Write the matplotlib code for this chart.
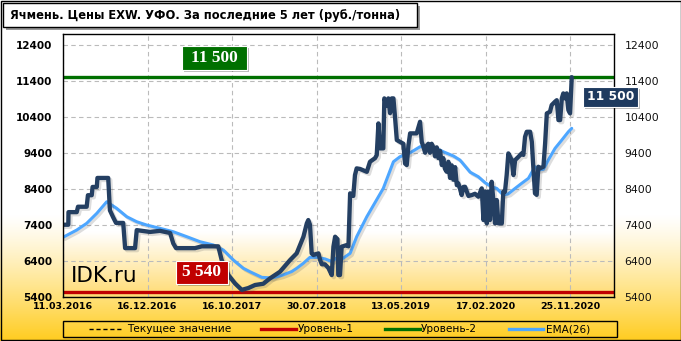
import matplotlib
matplotlib.use('Agg')
import matplotlib.pyplot as plt
import numpy as np
from matplotlib.patches import Rectangle
import matplotlib.patheffects as pe
from matplotlib.lines import Line2D

# ---------------- data ----------------
title = "Ячмень. Цены EXW. УФО. За последние 5 лет (руб./тонна)"
date_labels = ["11.03.2016", "16.12.2016", "16.10.2017", "30.07.2018",
               "13.05.2019", "17.02.2020", "25.11.2020"]
date_weeks = [0, 40, 80, 120, 160, 200, 240]
y_ticks = [5400, 6400, 7400, 8400, 9400, 10400, 11400, 12400]

level1 = 5540
level2 = 11500
current_value = 11500

price_weeks = [
    0, 2.5, 2.6, 6.5, 7.1, 11.2, 11.8, 13.6, 14.0, 16.0,
    16.3, 21.4, 22.2, 23.8, 25.1, 28.5, 29.4, 34.1, 34.9, 41.2,
    45.9, 50.7, 52.2, 53.5, 58.6, 62.5, 65.7, 72.0, 73.5, 75.1,
    78.3, 81.4, 84.6, 87.7, 90.9, 94.8, 98.0, 102.7, 107.5, 110.6,
    113.8, 115.4, 116.1, 116.9, 117.7, 118.5, 120.9, 121.7, 122.5, 124.0,
    125.6, 127.2, 128.0, 128.8, 129.9, 130.3, 131.1, 131.9, 134.3, 135.1,
    135.9, 137.4, 138.2, 139.0, 140.6, 143.8, 145.3, 147.7, 148.5, 149.3,
    150.1, 151.6, 152.1, 153.2, 154.0, 154.8, 155.6, 156.4, 157.2, 158.0,
    161.1, 161.9, 162.7, 163.5, 164.3, 167.4, 169.0, 169.8, 170.6, 171.4,
    172.2, 172.9, 173.7, 174.5, 175.3, 176.1, 176.9, 177.7, 178.5, 179.3,
    180.0, 180.8, 181.6, 182.4, 183.2, 184.0, 184.8, 185.6, 186.4, 187.1,
    187.9, 188.7, 189.5, 190.3, 191.9, 193.5, 195.0, 196.6, 198.2, 199.0,
    199.8, 200.6, 201.3, 202.1, 202.9, 203.7, 204.5, 205.3, 206.1, 207.7,
    208.4, 209.2, 210.0, 210.8, 212.4, 213.2, 214.0, 215.6, 217.1, 217.9,
    218.7, 219.5, 221.1, 221.9, 222.6, 223.4, 224.2, 225.0, 225.8, 227.4,
    228.2, 229.0, 230.5, 231.3, 232.9, 233.7, 234.5, 235.3, 236.1, 236.8,
    237.6, 238.4, 239.2, 240.0, 240.8,
]
price_values = [
    7400, 7400, 7750, 7750, 7900, 7900, 8220, 8220, 8450, 8450,
    8700, 8700, 7800, 7600, 7450, 7450, 6750, 6750, 7250, 7200,
    7230, 7170, 6880, 6750, 6750, 6750, 6800, 6800, 6800, 6420,
    6000, 5770, 5590, 5640, 5725, 5760, 5910, 6094, 6420, 6605,
    7067, 7438, 7530, 7400, 6605, 6560, 6605, 6420, 6300, 6300,
    6200, 6000, 6790, 7067, 7000, 6002, 6002, 6790, 6835, 6800,
    8272, 8200, 8780, 8966, 8950, 8870, 9150, 9250, 9336, 10216,
    9522, 9522, 10911, 10700, 10911, 10500, 10911, 10911, 10355, 9753,
    9650, 9100, 9058, 9600, 9939, 9939, 10261, 9700, 9567, 9400,
    9600, 9650, 9400, 9650, 9550, 9300, 9550, 9250, 9450, 9058,
    9250, 8950, 8872, 9150, 8700, 9050, 8650, 9000, 8500, 8550,
    8400, 8225, 8450, 8455, 8200, 8225, 8260, 8178, 8410, 7530,
    8320, 7438, 8320, 7530, 8594, 8086, 7438, 8086, 7438, 7438,
    8320, 8320, 8780, 9383, 9197, 8780, 9197, 9289, 9383, 9340,
    9844, 9983, 9983, 9706, 9011, 8272, 8230, 9011, 8970, 9011,
    9661, 10494, 10540, 10725, 10820, 10860, 10308, 10308, 10911, 11050,
    10911, 11050, 10586, 10494, 11500,
]

ema_weeks = [
    0, 6.5, 11.2, 16.0, 20.7, 25.4, 30.2, 34.9, 39.6, 45.9,
    52.2, 58.6, 64.9, 71.2, 75.9, 80.6, 85.4, 88.5, 94.1, 98.8,
    103.5, 108.3, 110.6, 113.8, 116.9, 120.1, 124.0, 127.2, 129.6, 131.9,
    135.9, 139.0, 143.8, 151.6, 156.4, 159.5, 164.3, 169.0, 173.7, 176.9,
    180.0, 184.8, 187.9, 192.7, 196.6, 199.8, 202.9, 205.3, 208.4, 210.8,
    214.0, 217.1, 220.3, 223.4, 225.0, 227.4, 229.7, 232.9, 236.1, 239.2,
    240.8,
]
ema_values = [
    7050, 7252, 7438, 7716, 8038, 7855, 7622, 7483, 7391, 7300,
    7205, 7067, 6927, 6836, 6697, 6420, 6188, 6094, 5938, 5920,
    5990, 6100, 6188, 6330, 6494, 6494, 6450, 6380, 6480, 6440,
    6605, 7067, 7622, 8410, 9150, 9289, 9400, 9567, 9567, 9520,
    9428, 9310, 9197, 8860, 8733, 8567, 8455, 8410, 8225, 8260,
    8410, 8550, 8689, 9011, 8920, 8940, 9197, 9522, 9753, 9983,
    10078,
]

legend_labels = ["Текущее значение", "Уровень-1", "Уровень-2", "EMA(26)"]

# ---------------- colours ----------------
C_PRICE = '#243F62'
C_EMA = '#4DA6FF'
C_L1 = '#C00000'
C_L2 = '#007000'

W, H = 681, 341
fig = plt.figure(figsize=(W / 100, H / 100), dpi=100)


def fx(x):
    return x / W


def fy(y):
    return 1 - y / H


def fmt(v):
    return f"{v:,}".replace(",", " ")


# figure background gradient
bg = fig.add_axes([0, 0, 1, 1], zorder=-10)
rows = np.arange(H) + 0.5
t = np.clip((rows - 215) / (H - 215), 0, 1) ** 1.2
top = np.array([1.0, 1.0, 1.0])
bot = np.array([1.0, 0.80, 0.12])
grad = top[None, :] * (1 - t[:, None]) + bot[None, :] * t[:, None]
bg.imshow(grad[:, None, :], aspect='auto', extent=[0, 1, 0, 1])
bg.set_xlim(0, 1)
bg.set_ylim(0, 1)
bg.axis('off')

# main axes
L, R, T, B = 63, 614, 34, 296.7
ax = fig.add_axes([fx(L), fy(B), fx(R) - fx(L), fy(T) - fy(B)])
ax.set_zorder(1)

rows2 = np.linspace(T, B, 200)
t2 = np.clip((rows2 - 232) / (B - 232), 0, 1)
bot2 = np.array([1.0, 0.86, 0.45])
grad2 = top[None, :] * (1 - t2[:, None]) + bot2[None, :] * t2[:, None]
ax.imshow(grad2[:, None, :], aspect='auto', extent=[0, 1, 0, 1],
          transform=ax.transAxes, zorder=0)

ax.set_xlim(0, 260.8)
ax.set_ylim(5400, 12700)

ax.set_xticks(date_weeks)
ax.set_xticklabels(date_labels)
ax.set_yticks(y_ticks)
ax.set_yticklabels([str(v) for v in y_ticks])
ax.grid(True, color='#BBBBBB', lw=0.8, ls=(0, (4, 3)), zorder=1)
ax.tick_params(axis='both', length=0)
ax.tick_params(axis='y', labelleft=True, labelright=True, pad=7.5)
ax.tick_params(axis='x', pad=4)
for tk in ax.yaxis.get_major_ticks():
    tk.label1.set_fontweight('bold')
    tk.label1.set_fontsize(7.5)
    tk.label2.set_fontweight('normal')
    tk.label2.set_fontsize(7.8)
    tk.label2.set_color('#111111')
for lab in ax.get_xticklabels():
    lab.set_fontweight('bold')
    lab.set_fontsize(6.8)
for s in ax.spines.values():
    s.set_color('black')
    s.set_linewidth(1.0)
    s.set_zorder(10)

# level lines
ax.axhline(current_value, color='#888888', lw=0.8, ls=(0, (4, 3)), zorder=2)
ax.axhline(level2, color=C_L2, lw=2.4, zorder=3)
ax.axhline(level1, color=C_L1, lw=2.4, zorder=3)

shadow = [pe.SimpleLineShadow(offset=(1.5, -1.5), alpha=0.18, shadow_color='#444444'), pe.Normal()]
ax.plot(ema_weeks, ema_values, color=C_EMA, lw=2.2, zorder=4,
        solid_joinstyle='round', solid_capstyle='round', path_effects=shadow)
ax.plot(price_weeks, price_values, color=C_PRICE, lw=3.1, zorder=5,
        solid_joinstyle='round', solid_capstyle='round', path_effects=shadow)

# IDK.ru
fig.text(fx(71), fy(282), "IDK.ru", fontsize=15.5, color='black',
         ha='left', va='baseline', zorder=20)


def box_label(x0, y0, x1, y1, text, fc, size, family, shadow_box=True):
    if shadow_box:
        fig.patches.append(Rectangle((fx(x0 + 2), fy(y1 + 2)), fx(x1) - fx(x0), fy(y0) - fy(y1),
                                     transform=fig.transFigure, fc='#00000044', ec='none', zorder=18))
    fig.patches.append(Rectangle((fx(x0), fy(y1)), fx(x1) - fx(x0), fy(y0) - fy(y1),
                                 transform=fig.transFigure, fc=fc, ec='white', lw=0.8, zorder=19))
    fig.text(fx((x0 + x1) / 2), fy((y0 + y1) / 2), text, ha='center', va='center',
             color='white', fontweight='bold', fontsize=size, family=family, zorder=20)


box_label(182, 46, 247, 70, fmt(level2), C_L2, 12.5, 'Liberation Serif')
box_label(176, 261, 228, 284, fmt(level1), C_L1, 12.5, 'Liberation Serif')
box_label(583, 87, 638, 107, fmt(current_value), '#1E3A5F', 8.8, 'DejaVu Sans')

# title box
fig.patches.append(Rectangle((fx(6), fy(30)), fx(417) - fx(3), fy(3) - fy(27),
                             transform=fig.transFigure, fc='#999999', ec='none', zorder=15))
fig.patches.append(Rectangle((fx(3), fy(27)), fx(417) - fx(3), fy(3) - fy(27),
                             transform=fig.transFigure, fc='white', ec='black', lw=1.0, zorder=16))
fig.text(fx(10), fy(15.5), title, ha='left', va='center', fontsize=8.3,
         fontweight='bold', color='black', zorder=17)

# legend (manual)
fig.patches.append(Rectangle((fx(63), fy(337)), fx(617) - fx(63), fy(321) - fy(337),
                             transform=fig.transFigure, fc='none', ec='black', lw=1.0, zorder=16))
ly = fy(329)
items = [
    (89, 121, 127, 'black', 1.0, (0, (3, 2))),
    (261, 296, 298, C_L1, 2.4, '-'),
    (385, 420, 421, C_L2, 2.4, '-'),
    (509, 543, 546, C_EMA, 2.4, '-'),
]
for (a, b, tx, col, lw, ls), lab in zip(items, legend_labels):
    fig.lines.append(Line2D([fx(a), fx(b)], [ly, ly], transform=fig.transFigure,
                            color=col, lw=lw, ls=ls, zorder=17))
    fig.text(fx(tx), ly, lab, ha='left', va='center', fontsize=7.6, color='black', zorder=17)

# outer border
fig.patches.append(Rectangle((0.0008, 0.0015), 0.9985, 0.997, transform=fig.transFigure,
                             fc='none', ec='black', lw=1.0, zorder=30))

fig.savefig('out.png', dpi=100)
